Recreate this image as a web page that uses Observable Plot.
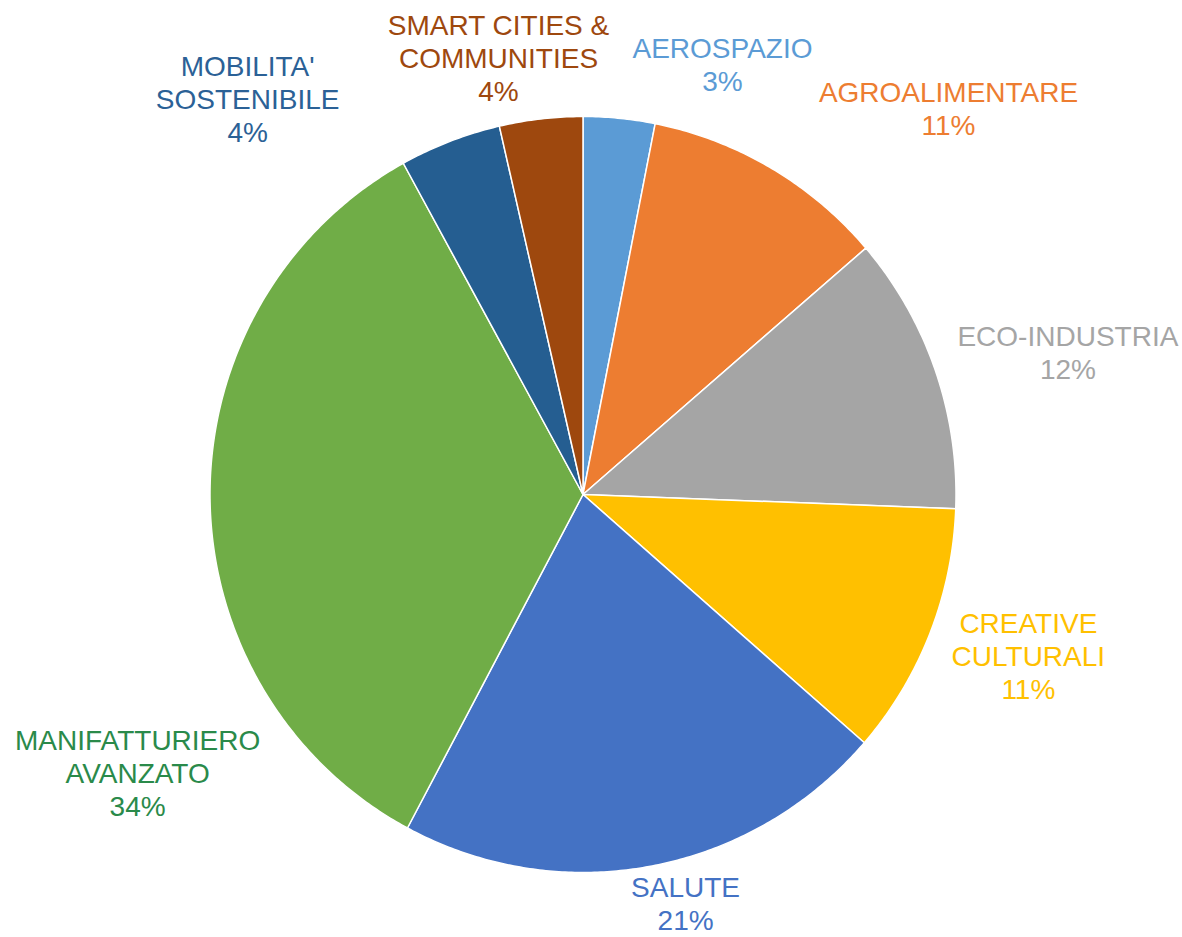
<!DOCTYPE html>
<html>
<head>
<meta charset="utf-8">
<script src="https://cdn.jsdelivr.net/npm/d3@7"></script>
<script src="https://cdn.jsdelivr.net/npm/@observablehq/plot@0.6"></script>
<style>
  html, body { margin: 0; padding: 0; background: #ffffff; }
  #chart svg { display: block; }
</style>
</head>
<body>
<div id="chart"></div>
<script>
// ---- Data (clockwise from 12 o'clock) ----
const categories = [
  "AEROSPAZIO", "AGROALIMENTARE", "ECO-INDUSTRIA", "CREATIVE CULTURALI",
  "SALUTE", "MANIFATTURIERO AVANZATO", "MOBILITA' SOSTENIBILE", "SMART CITIES & COMMUNITIES"
];
const labelLines = [
  ["AEROSPAZIO"], ["AGROALIMENTARE"], ["ECO-INDUSTRIA"], ["CREATIVE", "CULTURALI"],
  ["SALUTE"], ["MANIFATTURIERO", "AVANZATO"], ["MOBILITA'", "SOSTENIBILE"], ["SMART CITIES &", "COMMUNITIES"]
];
const shares = [3.1, 10.6, 11.9, 10.8, 21.4, 34.2, 4.4, 3.6];
const sliceColors = ["#5B9BD5", "#ED7D31", "#A5A5A5", "#FFC000", "#4472C4", "#70AD47", "#255E91", "#9E480E"];
const labelColors = ["#5B9BD5", "#ED7D31", "#A5A5A5", "#FFC000", "#4472C4", "#2A8A4A", "#2B6196", "#9E480E"];

// ---- Layout ----
const W = 1182, H = 937;
const CX = 582.5, CY = 494, RX = 373, RY = 378;
// label block centres in pie units (x right, y up)
const labelAnchors = [
  [0.374, 1.138], [0.980, 1.022], [1.300, 0.378], [1.194, -0.426],
  [0.275, -1.080], [-1.194, -0.735], [-0.899, 1.049], [-0.2265, 1.156]
];

// ---- Build slice polygons ----
const total = d3.sum(shares);
const slicePts = [];
let acc = 0;
shares.forEach((v, i) => {
  const a0 = acc / total * 2 * Math.PI;
  acc += v;
  const a1 = acc / total * 2 * Math.PI;
  slicePts.push({cat: categories[i], color: sliceColors[i], x: 0, y: 0});
  const n = Math.max(2, Math.ceil((a1 - a0) / (Math.PI / 360)));
  for (let k = 0; k <= n; k++) {
    const a = a0 + (a1 - a0) * k / n;
    slicePts.push({cat: categories[i], color: sliceColors[i], x: Math.sin(a), y: Math.cos(a)});
  }
});

const labels = categories.map((c, i) => ({
  cat: c,
  text: labelLines[i].join("\n") + "\n" + Math.round(shares[i] / total * 100) + "%",
  color: labelColors[i],
  x: labelAnchors[i][0],
  y: labelAnchors[i][1]
}));

const chart = Plot.plot({
  width: W,
  height: H,
  margin: 0,
  style: {background: "#ffffff", fontFamily: "'Liberation Sans', Arial, sans-serif"},
  x: {domain: [(0 - CX) / RX, (W - CX) / RX], axis: null},
  y: {domain: [(CY - H) / RY, CY / RY], axis: null},
  color: {type: "identity"},
  marks: [
    Plot.line(slicePts, {
      x: "x", y: "y", z: "cat",
      fill: "color", stroke: "#ffffff", strokeWidth: 1.5,
      curve: "linear-closed"
    }),
    Plot.text(labels, {
      x: "x", y: "y", text: "text", fill: "color",
      fontSize: 28, lineHeight: 1.18, textAnchor: "middle", lineAnchor: "middle"
    })
  ]
});
document.getElementById("chart").appendChild(chart);
</script>
</body>
</html>
